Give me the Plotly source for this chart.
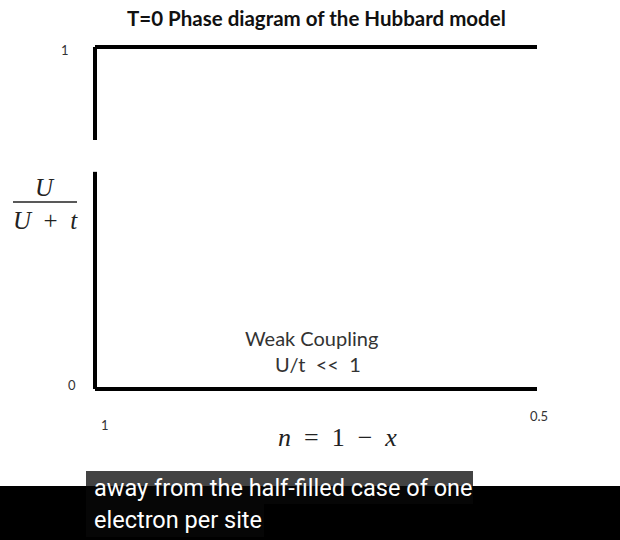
import plotly.graph_objects as go

# ---- data ----
n_ticks = [1, 0.5]
n_tick_labels = ["1", "0.5"]
y_ticks = [0, 1]
y_tick_labels = ["0", "1"]
top_x = [1, 0.5]
top_y = [1, 1]
bottom_x = [1, 0.5]
bottom_y = [0, 0]
axis_x = [1, 1, None, 1, 1]
axis_y = [0, 0.635, None, 0.728, 1]
title = "T=0 Phase diagram of the Hubbard model"
region_label = ["Weak Coupling", "U/t  <<  1"]
caption = ["away from the half-filled case of one", "electron per site"]

W, H = 620, 540
# pixel anchors of the data frame
PX_X1, PX_X05 = 95, 537
PX_Y0, PX_Y1 = 389, 47
sx = (n_ticks[0] - n_ticks[1]) / (PX_X05 - PX_X1)
sy = 1.0 / (PX_Y0 - PX_Y1)
xr = [n_ticks[0] + PX_X1 * sx, n_ticks[0] - (W - PX_X1) * sx]
yr = [-(H - PX_Y0) * sy, PX_Y0 * sy]

def px(x):
    return x / W

def py(y):
    return 1 - y / H

fig = go.Figure()
line = dict(color="black", width=4)
for xs, ys in [(top_x, top_y), (bottom_x, bottom_y), (axis_x, axis_y)]:
    fig.add_trace(go.Scatter(x=xs, y=ys, mode="lines", line=line,
                             hoverinfo="skip", showlegend=False))

ann = []

def add(x, y, text, font, xanchor="center"):
    ann.append(dict(x=px(x), y=py(y), xref="paper", yref="paper", text=text,
                    xanchor=xanchor, yanchor="middle", showarrow=False, font=font))

tick_font = dict(family="Lato", size=13, color="#333333")
add(65, 50, y_tick_labels[1], tick_font)
add(72, 385, y_tick_labels[0], tick_font)
add(105, 425, n_tick_labels[0], tick_font)
add(539, 416, n_tick_labels[1], tick_font)
# title
add(316, 18, title, dict(family="Lato", size=20.5, color="#111111", weight=700))
# region label
lab_font = dict(family="Lato", size=20, color="#333333")
add(311, 338, region_label[0], lab_font)
add(318, 364, region_label[1], lab_font)
# y-label fraction
serif = dict(family="Liberation Serif", size=25, color="#222222")
add(45, 187, "<i>U</i>", serif)
add(45, 220, "<i>U</i>\u2002+\u2002<i>t</i>", serif)
# x-label
add(337, 437, "<i>n</i>\u2002=\u20021\u2002−\u2002<i>x</i>", dict(family="Liberation Serif", size=26, color="#222222"))
# caption
cap_font = dict(family="Roboto", size=23.5, color="white")
add(92, 488, caption[0], cap_font, xanchor="left")
add(92, 520, caption[1], cap_font, xanchor="left")

shapes = [
    dict(type="line", xref="paper", yref="paper", x0=px(13), x1=px(77), y0=py(202), y1=py(202),
         line=dict(color="#222222", width=1.3)),
    dict(type="rect", xref="paper", yref="paper", x0=0, x1=1, y0=0, y1=py(486),
         fillcolor="black", line=dict(width=0), layer="below"),
    dict(type="rect", xref="paper", yref="paper", x0=px(86), x1=px(473), y0=py(504), y1=py(471),
         fillcolor="rgba(8,8,8,0.76)", line=dict(width=0), layer="below"),
    dict(type="rect", xref="paper", yref="paper", x0=px(86), x1=px(264), y0=py(537), y1=py(504),
         fillcolor="rgba(8,8,8,0.76)", line=dict(width=0), layer="below"),
]

fig.update_layout(
    width=W, height=H, margin=dict(l=0, r=0, t=0, b=0),
    paper_bgcolor="white", plot_bgcolor="white",
    xaxis=dict(range=xr, visible=False, fixedrange=True),
    yaxis=dict(range=yr, visible=False, fixedrange=True),
    annotations=ann, shapes=shapes, showlegend=False,
)
fig.write_html("out.html")
